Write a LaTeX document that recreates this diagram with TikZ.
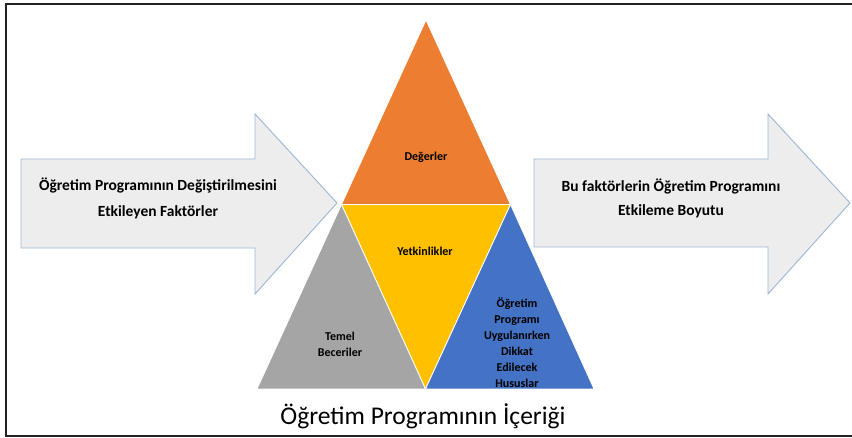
\documentclass[tikz,border=0pt]{standalone}
\usepackage{fontspec}
\setmainfont{Carlito}
\definecolor{arrfill}{HTML}{EDEDED}
\definecolor{arrline}{HTML}{9DB6D6}
\definecolor{orng}{HTML}{ED7D31}
\definecolor{yel}{HTML}{FFC000}
\definecolor{gry}{HTML}{A5A5A5}
\definecolor{blu}{HTML}{4472C4}
\definecolor{frame}{HTML}{222222}
\tikzset{
  bigarrow/.style={fill=arrfill, draw=arrline, line width=0.9pt, line join=miter},
  tri/.style={draw=white, line width=0.8pt, line join=miter},
  arrtext/.style={font=\bfseries\fontsize{15.5}{18}\selectfont, text=black, inner sep=0pt},
  tritext/.style={font=\bfseries\fontsize{12}{16}\selectfont, text=black, inner sep=0pt, align=center},
}
\begin{document}
\begin{tikzpicture}[x=1pt,y=-1pt]
\useasboundingbox (0,0) rectangle (852,438);
\fill[white] (0,0) rectangle (852,438);
% frame
\draw[frame, line width=2pt] (852,4) -- (5.5,4) -- (5.5,436) -- (852,436);
% left arrow
\draw[bigarrow] (21,159) -- (255,159) -- (255,114) -- (337,203) -- (255,294) -- (255,248) -- (21,248) -- cycle;
% right arrow
\draw[bigarrow] (534,159) -- (768,159) -- (768,114) -- (850,203) -- (768,294) -- (768,247) -- (534,247) -- cycle;
% triangles
\coordinate (A) at (426,20);
\coordinate (L) at (257,389);
\coordinate (R) at (594,389);
\coordinate (ML) at (341.5,204.5);
\coordinate (MR) at (510.5,204.5);
\coordinate (MB) at (425.5,389);
\filldraw[tri, fill=orng] (A) -- (ML) -- (MR) -- cycle;
\filldraw[tri, fill=yel] (ML) -- (MR) -- (MB) -- cycle;
\filldraw[tri, fill=gry] (ML) -- (MB) -- (L) -- cycle;
\filldraw[tri, fill=blu] (MR) -- (R) -- (MB) -- cycle;
% texts
\node[arrtext] (t1) at (158,186) {Öğretim Programının Değiştirilmesini};
\node[arrtext] (t2) at (158,212) {Etkileyen Faktörler};
\node[arrtext] (t3) at (671,187) {Bu faktörlerin Öğretim Programını};
\node[arrtext] (t4) at (671,211) {Etkileme Boyutu};
\node[tritext] (d) at (426,157) {Değerler};
\node[tritext] (y) at (425,251) {Yetkinlikler};
\node[tritext] (tb) at (340,344) {Temel\\Beceriler};
\node[tritext] (op) at (517,343) {Öğretim\\Programı\\Uygulanırken\\Dikkat\\Edilecek\\Hususlar};
\node[font=\fontsize{25.5}{28}\selectfont, inner sep=0pt] (title) at (423,416) {Öğretim Programının İçeriği};
\end{tikzpicture}
\end{document}
